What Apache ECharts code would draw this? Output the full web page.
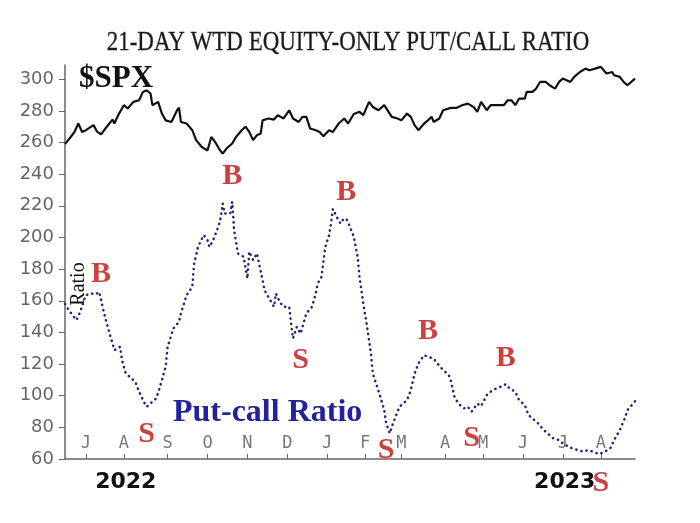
<!DOCTYPE html>
<html><head><meta charset="utf-8">
<script src="https://cdn.jsdelivr.net/npm/echarts@6/dist/echarts.min.js"></script>
<style>html,body{margin:0;padding:0;background:#fff}#c{width:700px;height:523px}</style>
</head><body><div id="c"></div>
<script>
const titleText = '21-DAY WTD EQUITY-ONLY PUT/CALL RATIO';
const yTicks = [60,80,100,120,140,160,180,200,220,240,260,280,300];
const monthLabels = ['J','A','S','O','N','D','J','F','M','A','M','J','J','A'];
const monthDays = [11,31,54,75,96,117,138,158,177,200,220,241,262,282];
const yearLabels = ['2022','2023'];
const yearDays = [32,263];

const spxDays = [0,3,5,7,9,11,15,17,19,22,25,26,28,31,33,36,39,41,43,45,46,49,51,53,56,59,60,61,64,67,69,72,75,77,79,81,83,85,88,90,93,95,97,99,101,103,104,107,110,112,115,118,120,123,125,127,129,132,134,136,139,141,144,147,149,152,155,157,160,162,165,168,169,172,175,177,180,182,184,186,189,191,193,194,197,199,203,206,209,212,215,217,219,222,224,227,231,233,235,237,239,242,243,246,248,250,253,255,258,260,262,266,268,271,274,276,279,282,283,285,288,289,292,294,296,297,300];
const spxVals = [259,263.5,266.7,272,266.7,267.8,271,266.7,265.2,270,274.5,272,277.3,283.6,281.5,285.7,286.7,292,293,291,283.6,285.7,278.3,274,273,280.4,282,273,272,267.8,261.5,257.2,255,263.5,260.4,256.2,253,256.2,259.4,263.5,267.8,270,266.7,261.5,264.6,265.7,274,275.2,274.5,277.3,275.2,280.4,275.2,273,276.2,276.2,268.9,267.8,266.7,264,267.8,266.7,272,275.2,272,278,279.4,277.3,285.7,282.5,280.4,283.6,283.6,276.2,275.2,274,278.3,276.2,271,267.8,272,274,276.2,273,275.2,280.4,281.9,281.9,283.6,284.6,282.5,279.4,285.7,280.4,283.6,283.6,283.6,286.7,286.7,283.6,287.8,287.8,292,292,294.1,298.3,298.3,296.2,294.1,298.3,300.4,298.3,301.5,304.6,306.7,305.7,306.7,307.8,306.7,303.6,304.6,302.5,301.5,298.3,296.2,297.3,300.4];

const ratioDays = [0,2,6,8,10,11,14,16,18,19,21,23,25,26,29,30,32,34,37,39,42,43,46,48,50,53,54,57,60,61,64,67,68,70,73,75,76,78,81,82,83,84,87,88,89,91,94,96,97,99,101,104,105,107,110,111,113,115,118,119,120,122,124,125,127,130,132,133,135,137,139,140,141,143,145,146,148,150,152,154,155,157,159,161,162,164,166,168,169,171,172,174,176,180,182,184,186,189,191,194,196,199,202,203,205,207,210,212,214,217,219,222,225,227,230,232,234,237,239,242,244,246,249,252,254,257,260,262,265,267,270,273,275,278,281,282,284,287,289,292,295,296,299,300];
const ratioVals = [158,154,147.8,153,160.4,163.6,164.6,164,165.6,160.4,150,141.4,133,128.8,130.9,122.5,114,112,108.8,102.5,95,93,96.2,98.3,105.6,118.3,130.9,142.5,146.7,152,163.6,168.8,183.6,194,201.5,198.3,194,198.3,207.8,213,221.5,215.2,215.2,222.5,204.6,189.9,187.8,174.1,191,185.7,189.9,173,166.7,162.5,156.2,164.6,159.3,156.2,156.2,145.7,136.2,143.5,139.3,143.5,152,156.2,164.6,171,175.1,194,201.5,208.8,218,213,208.8,210.9,212,206.7,200.4,187.8,175.1,158.3,143.5,126.7,114,106.7,99.3,90.9,82.5,76.2,80.4,86.7,93,97.2,103.5,114,120.4,125.6,124.6,123.5,120.4,116.2,113,109.9,99.3,95,92,93,89.9,95,93.4,100.4,103.5,104.6,106,107.3,104.6,102.5,97.2,94.1,87.8,85.7,82.5,78.3,76.2,73,72,69.8,67.8,66.7,65.6,64.6,65.6,64.6,63.1,61.9,64.6,66.7,72,78.3,86.7,90.9,95,96.5];

const buyDays = [19,88,148,191,232];
const sellDays = [43,124,169,214,282];

const ratioAt = d => ratioVals[ratioDays.indexOf(d)];
const spxData = spxDays.map((d,i) => [d, spxVals[i]]);
const ratioData = ratioDays.map((d,i) => [d, ratioVals[i]]);

const chart = echarts.init(document.getElementById('c'), null, {renderer:'canvas'});
const signalLabel = {
  show:true, fontFamily:'Liberation Serif', fontWeight:'bold', fontSize:30, color:'#bf1010'
};
chart.setOption({
  animation:false,
  backgroundColor:'#fff',
  grid:{left:65, right:65, top:65, bottom:64},
  xAxis:[{
    type:'value', min:0, max:300,
    axisLine:{show:true, onZero:false, lineStyle:{color:'#666', width:1.5}},
    axisTick:{show:true, inside:true, length:5, customValues:monthDays, lineStyle:{color:'#666'}},
    axisLabel:{show:true, inside:true, margin:7, customValues:monthDays,
      formatter:v => monthLabels[monthDays.indexOf(v)] || '',
      fontFamily:'DejaVu Sans Mono', fontSize:17, color:'#777'},
    splitLine:{show:false}
  },{
    type:'value', min:0, max:300, position:'bottom',
    axisLine:{show:false}, axisTick:{show:false}, splitLine:{show:false},
    axisLabel:{show:true, margin:12, customValues:yearDays,
      formatter:v => yearLabels[yearDays.indexOf(v)] || '',
      fontFamily:'DejaVu Sans', fontWeight:'bold', fontSize:22, color:'#111'}
  }],
  yAxis:{
    type:'value', min:60, max:309,
    axisLine:{show:true, lineStyle:{color:'#666', width:1.5}},
    axisTick:{show:true, length:6, customValues:yTicks, lineStyle:{color:'#666'}},
    axisLabel:{show:true, margin:11, customValues:yTicks,
      fontFamily:'DejaVu Sans', fontSize:18, color:'#666'},
    splitLine:{show:false}
  },
  graphic:[
    {type:'text', x:348, y:43, scaleX:0.85, style:{text:titleText, textAlign:'center', textVerticalAlign:'middle',
      font:'27px "Liberation Serif"', fill:'#1a1a1a', stroke:'#1a1a1a', lineWidth:0.3}},
    {type:'text', x:79, y:79, style:{text:'$SPX', textAlign:'left', textVerticalAlign:'middle',
      font:'bold 31px "Liberation Serif"', fill:'#111'}},
    {type:'text', x:173, y:413, style:{text:'Put-call Ratio', textAlign:'left', textVerticalAlign:'middle',
      font:'bold 32px "Liberation Serif"', fill:'#22229c'}},
    {type:'text', x:79, y:284, rotation:Math.PI/2, style:{text:'Ratio', textAlign:'center', textVerticalAlign:'middle',
      font:'20px "Liberation Serif"', fill:'#111'}}
  ],
  series:[
    {type:'line', data:spxData, showSymbol:false, symbol:'none',
      lineStyle:{color:'#111', width:2.2}, z:3},
    {type:'line', data:ratioData, showSymbol:false, symbol:'none',
      lineStyle:{color:'#23237e', width:2.5, type:[0.3,5], cap:'round'}, z:3},
    {type:'scatter', data:buyDays.map(d => [d, ratioAt(d)]), symbolSize:0, z:5,
      label:Object.assign({}, signalLabel, {position:'top', distance:11, formatter:'B'})},
    {type:'scatter', data:sellDays.map(d => [d, ratioAt(d)]), symbolSize:0, z:5,
      label:Object.assign({}, signalLabel, {position:'bottom', distance:12, formatter:'S'})}
  ]
});
</script></body></html>
